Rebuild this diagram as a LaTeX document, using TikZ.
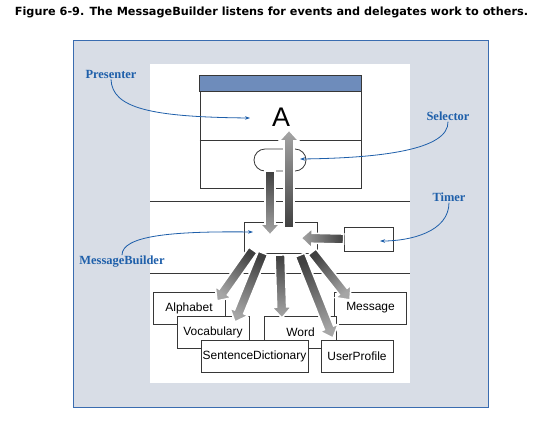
\documentclass[tikz,border=0pt]{standalone}
\usepackage{fontspec}
\setmainfont{Liberation Sans}
\newfontfamily\captionfont{DejaVu Sans}
\newfontfamily\calloutfont{Liberation Serif}
\usetikzlibrary{arrows.meta,calc}

\definecolor{panelgray}{RGB}{216,221,230}
\definecolor{frameblue}{RGB}{58,108,176}
\definecolor{barblue}{RGB}{110,140,187}
\definecolor{callblue}{RGB}{30,95,170}
\definecolor{linegray}{RGB}{55,55,55}

\tikzset{
  classbox/.style={draw=linegray, line width=0.8bp, fill=white, minimum width=72bp,
    minimum height=32bp, inner sep=1bp, font=\fontsize{12}{13}\selectfont},
  fatarrow/.style={draw=white, line width=1.6bp, top color=black!75, bottom color=black!35},
  callout/.style={text=callblue, inner sep=1bp, font=\calloutfont\bfseries\fontsize{12.5}{14}\selectfont},
  callarrow/.style={draw=callblue, line width=0.8bp, -{Stealth[length=5bp,width=3.5bp]}},
  layerline/.style={draw=linegray, line width=1bp}
}

% thick shaded arrow: tail, head, shading angle
\newcommand\fatarrow[3]{%
  \coordinate (neck) at ($(#2)!11bp!(#1)$);
  \shadedraw[fatarrow, shading angle=#3]
    ($(#1)!5bp!90:(#2)$) -- ($(neck)!5bp!-90:(#1)$) -- ($(neck)!10bp!-90:(#1)$) -- (#2)
    -- ($(neck)!10bp!90:(#1)$) -- ($(neck)!5bp!90:(#1)$) -- ($(#1)!5bp!-90:(#2)$) -- cycle;
}

\begin{document}
\begin{tikzpicture}[x=1bp, y=-1bp]
\useasboundingbox (0,0) rectangle (556,421);

\node[font=\captionfont\bfseries\fontsize{11.3}{13}\selectfont] (title) at (271.5,12)
  {Figure 6-9. The MessageBuilder listens for events and delegates work to others.};

% panels
\draw[fill=panelgray, draw=frameblue, line width=1bp] (73,40) rectangle (488,407);
\fill[white] (150,64) rectangle (410,383);
\draw[layerline] (150,201) -- (410,201);
\draw[layerline] (150,273) -- (410,273);

% presenter window
\node[draw=linegray, line width=0.8bp, fill=white, minimum width=161bp, minimum height=112bp,
  inner sep=0pt] (window) at (280.5,132) {};
\draw[fill=barblue, draw=linegray, line width=0.8bp] (window.north west) rectangle ($(window.north east)+(0,16)$);
\draw[draw=linegray, line width=0.8bp] ($(window.west)+(0,8)$) -- ($(window.east)+(0,8)$);
\node[font=\fontsize{27}{28}\selectfont] (letter) at (281,117) {A};
\node[draw=linegray, line width=0.8bp, rounded corners=11bp, minimum width=52bp,
  minimum height=22bp, inner sep=0pt] (selector) at (280,160) {};

% builder and timer
\node[classbox, minimum width=73bp, minimum height=31bp] (builder) at (280.5,237.5) {};
\node[classbox, minimum width=49bp, minimum height=24bp] (timer) at (368.5,239) {};

% classes
\node[classbox] (alphabet) at (189,308) {Alphabet};
\node[classbox] (message) at (370.5,308) {Message};
\node[classbox] (vocabulary) at (213,332) {Vocabulary};
\node[classbox] (word) at (300.5,332) {Word};
\node[classbox, minimum width=107bp] (sentence) at (254.5,356) {SentenceDictionary};
\node[classbox] (userprofile) at (357,356) {UserProfile};

% arrow ends
\coordinate (downtail) at (270,171);
\coordinate (downhead) at (270,235);
\coordinate (uptail) at (289,228);
\coordinate (uphead) at (289,130);
\coordinate (timertail) at (timer.west);
\coordinate (timerhead) at (301,238);

\fatarrow{downtail}{downhead}{0}
\fatarrow{uptail}{uphead}{180}
\fatarrow{timertail}{timerhead}{270}

\coordinate (fan1) at (253,250); \coordinate (alphahead) at (217,301);
\coordinate (fan2) at (263,253); \coordinate (vocabhead) at (235,322);
\coordinate (fan3) at (280,255); \coordinate (wordhead) at (282,318);
\coordinate (fan4) at (300,255); \coordinate (userhead) at (333,338);
\coordinate (fan5) at (312,252); \coordinate (msghead) at (350,300);

\fatarrow{fan1}{alphahead}{-36}
\fatarrow{fan2}{vocabhead}{-22}
\fatarrow{fan3}{wordhead}{2}
\fatarrow{fan4}{userhead}{22}
\fatarrow{fan5}{msghead}{38}

% callouts
\node[callout] (presenterlbl) at (111,74) {Presenter};
\node[callout] (selectorlbl) at (448,116) {Selector};
\node[callout] (timerlbl) at (449,197) {Timer};
\node[callout] (builderlbl) at (122,262) {MessageBuilder};

\coordinate (presentertip) at (250,118);
\coordinate (selectortip) at (300,159);
\coordinate (timertip) at (380,241);
\coordinate (buildertip) at (253,232);

\draw[callarrow] (presenterlbl.south) .. controls (112,108) and (150,117) .. (presentertip);
\draw[callarrow] (selectorlbl.south) .. controls (449,150) and (380,158) .. (selectortip);
\draw[callarrow] (timerlbl.south) .. controls (449,232) and (410,241) .. (timertip);
\draw[callarrow] (builderlbl.north) .. controls (122,236) and (170,231) .. (buildertip);
\end{tikzpicture}
\end{document}
